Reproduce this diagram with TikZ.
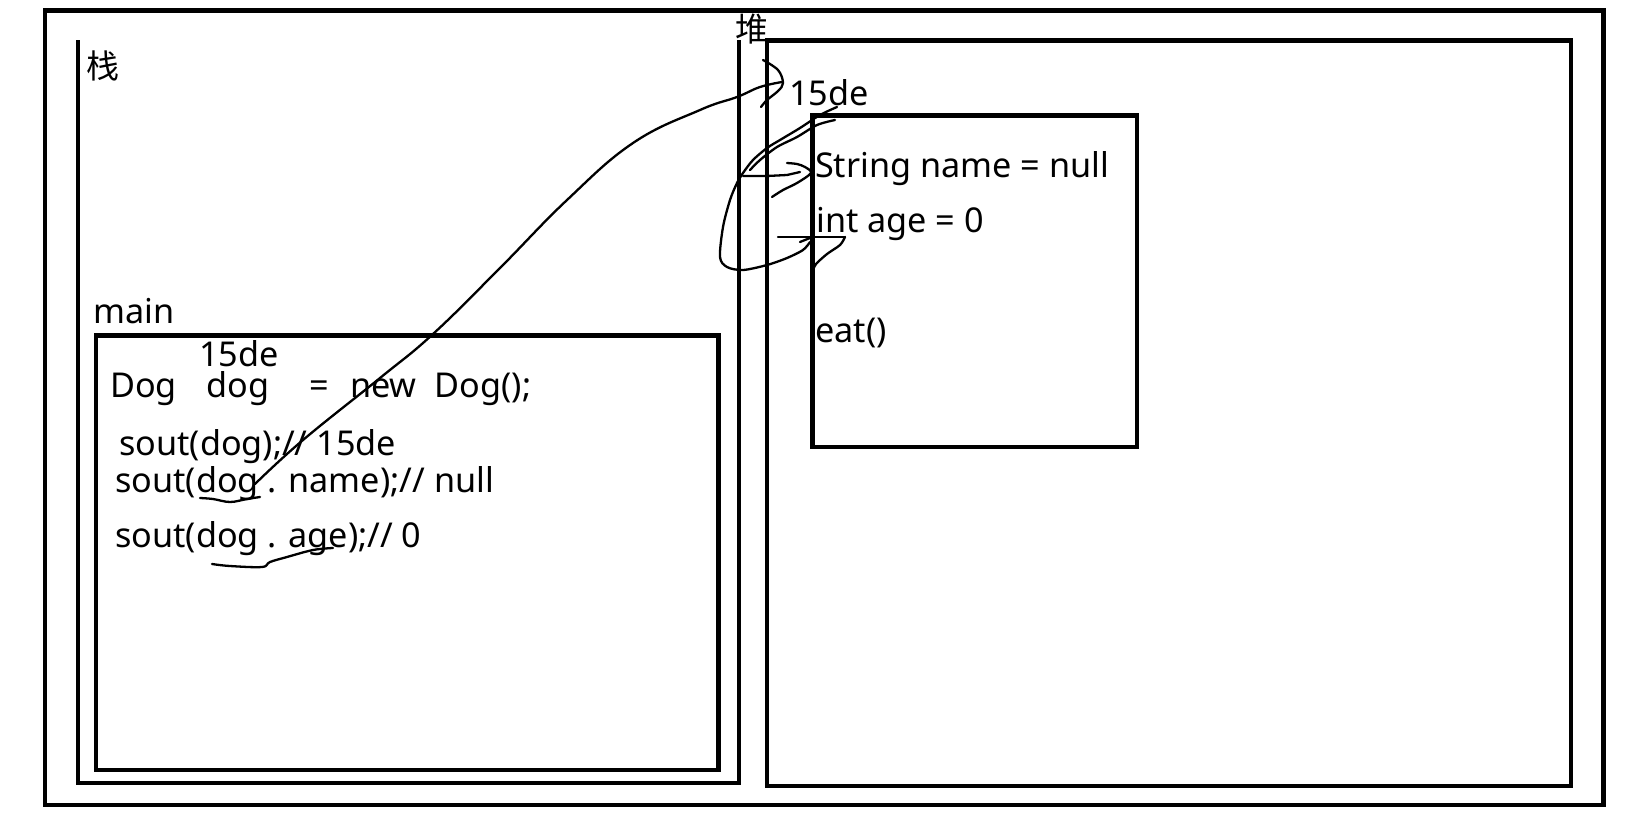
\documentclass[tikz,border=0pt]{standalone}
\usepackage{fontspec}
\setmainfont{Noto Sans}
\newfontfamily\cjk{Noto Sans CJK SC}
\begin{document}
\begin{tikzpicture}[x=1pt,y=-1pt,
  frame/.style={line width=4.5pt,draw=black},
  ink/.style={line width=2.3pt,line cap=round,line join=round},
  txt/.style={anchor=base west,inner sep=0pt,font=\fontsize{34.2}{40}\selectfont},
  hanzi/.style={anchor=center,inner sep=0pt,font=\cjk\fontsize{33}{38}\selectfont}]
\useasboundingbox (0,0) rectangle (1633,812);
\fill[white] (0,0) rectangle (1633,812);
% outer frame
\draw[frame] (45,10.5) rectangle (1603.5,805);
% stack (open at top)
\draw[frame] (78,40) -- (78,783) -- (739,783) -- (739,40);
% heap
\draw[frame] (767,40.5) rectangle (1571,786);
% main frame
\draw[frame] (96,335.5) rectangle (718.5,770);
% object box
\draw[frame] (812.5,115.5) rectangle (1137,447);
% labels
\node[hanzi] (zhan) at (103,66) {栈};
\node[hanzi] (dui) at (752,29) {堆};
\node[txt] (addr) at (789,105) {15de};
\node[txt] (fname) at (815,177) {String name = null};
\node[txt] (fage) at (816,232) {int age = 0};
\node[txt] (feat) at (815,342) {eat()};
\node[txt] (mainlbl) at (93,323) {main};
\node[txt] (addr2) at (199,366) {15de};
\node[txt] (decl) at (110,397) {Dog\hspace{30pt}dog\hspace{40pt}=\hspace{21pt}new\hspace{18pt}Dog();};
\node[txt] (s1) at (119,455) {sout(dog);// 15de};
\node[txt] (s2) at (115,492) {sout(dog . name);// null};
\node[txt] (s3) at (115,547) {sout(dog . age);// 0};
% handwritten strokes
\draw[ink] plot[smooth,tension=0.7] coordinates {(255,484) (303,440) (380,378) (433,334) (500,268) (567,200) (633,143) (700,110) (737,97) (760,87) (782,82)};
\draw[ink] plot[smooth,tension=0.6] coordinates {(763,60) (778,70) (783,83) (778,91) (767,100) (761,107)};
\draw[ink] plot[smooth,tension=0.6] coordinates {(200,498) (213,499) (230,502) (247,499) (260,497)};
\draw[ink] plot[smooth,tension=0.6] coordinates {(212,564) (230,566) (262,567) (270,562) (287,557) (313,550) (333,548)};
% heap side strokes
\draw[ink] plot[smooth,tension=0.5] coordinates {(837,107) (820,115) (800,128) (780,140) (767,148) (753,160) (743,173) (737,183) (730,200) (723,227) (720,257) (727,267) (743,270) (767,265) (787,258) (803,250) (810,242)};
\draw[ink] plot[smooth,tension=0.5] coordinates {(835,120) (817,125) (797,137) (777,147) (760,160) (750,170)};
\draw[ink] (743,176) -- (767,176) -- (787,175) -- (800,172);
\draw[ink] plot[smooth,tension=0.5] coordinates {(787,163) (797,164) (805,167) (811,173) (797,183) (783,190) (772,197)};
\draw[ink] (778,237) -- (845,237);
\draw[ink] plot[smooth,tension=0.5] coordinates {(845,237) (840,245) (827,254) (816,264) (813,270)};
\draw[ink] (800,242) -- (810,238);
\end{tikzpicture}
\end{document}
